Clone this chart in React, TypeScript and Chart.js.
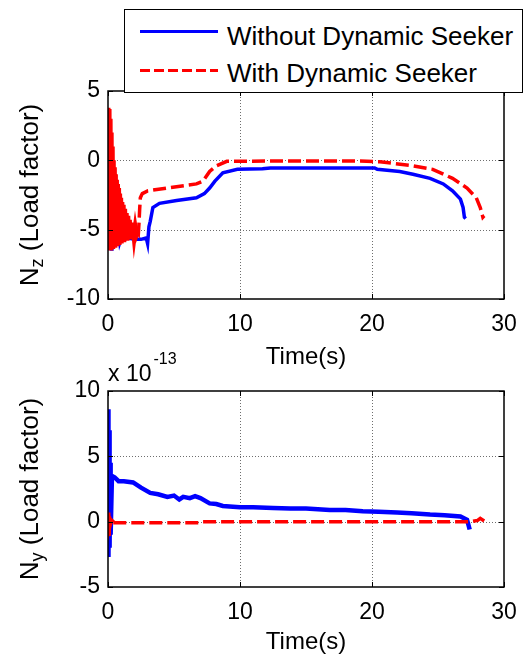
import React, { useEffect, useRef } from "react";
import { Chart, registerables } from "chart.js";

Chart.register(...registerables);

const FONT = '"Liberation Sans", Arial, Helvetica, sans-serif';

// ---------- data ----------
const seriesNames = ["Without Dynamic Seeker", "With Dynamic Seeker"];
const xLabel = "Time(s)";
const xRange = [0, 30];
const nzRange = [-10, 5];
const nyRange = [-5, 10];
const tickStepX = 10;
const tickStepY = 5;

// Top plot: N_z, without dynamic seeker
const nzWithoutT = [0, 0.05, 0.1, 0.15, 0.2, 0.25, 0.3, 0.35, 0.4, 0.45, 0.5, 0.55, 0.6, 0.7, 0.8, 0.9, 1.0, 1.2, 1.5, 2.0, 2.5, 2.9, 3.0, 3.1, 3.2, 3.4, 3.9, 5.2, 6.7, 7.3, 7.7, 8.1, 8.7, 9.8, 11.7, 12.3, 15, 18, 20.2, 20.4, 22.1, 23.1, 24.4, 25.4, 26.1, 26.7, 26.9, 27.0, 27.1];
const nzWithoutY = [-1.3, -6.2, -1.5, -6.3, -2.0, -6.4, -2.5, -6.2, -3.0, -6.0, -3.5, -6.0, -4.5, -5.8, -5.0, -5.9, -5.6, -5.7, -5.6, -5.7, -5.7, -5.6, -6.0, -4.8, -4.4, -3.4, -3.1, -2.9, -2.7, -2.4, -2.0, -1.5, -0.9, -0.65, -0.6, -0.55, -0.55, -0.55, -0.55, -0.65, -0.8, -1.0, -1.3, -1.7, -2.2, -2.8, -3.4, -4.1, -4.2];

// Top plot: N_z, with dynamic seeker
const nzWithT = [0, 0.04, 0.08, 0.12, 0.16, 0.2, 0.24, 0.28, 0.32, 0.36, 0.4, 0.44, 0.48, 0.52, 0.56, 0.6, 0.64, 0.68, 0.72, 0.76, 0.8, 0.84, 0.88, 0.92, 0.96, 1.0, 1.05, 1.1, 1.15, 1.2, 1.26, 1.32, 1.38, 1.44, 1.5, 1.56, 1.62, 1.68, 1.75, 1.82, 1.9, 1.98, 2.06, 2.14, 2.22, 2.3, 2.35, 2.4, 2.45, 2.6, 3.0, 4.5, 6.7, 7.2, 7.7, 8.2, 9.0, 12, 19.1, 20.6, 23.1, 24.6, 26.1, 27.2, 27.9, 28.2, 28.4, 28.5];
const nzWithY = [3.8, -6.3, 3.7, -6.5, 3.0, -6.5, 2.0, -6.4, 1.0, -6.4, 0.0, -6.3, -0.5, -6.3, -1.0, -6.2, -1.4, -6.2, -1.7, -6.1, -2.0, -6.1, -2.4, -6.0, -2.7, -6.0, -3.0, -5.9, -3.2, -5.9, -3.5, -5.8, -3.8, -5.8, -4.0, -5.7, -4.3, -5.7, -4.5, -5.6, -4.7, -5.5, -4.9, -5.4, -5.2, -5.3, -4.5, -3.5, -2.7, -2.4, -2.2, -2.0, -1.7, -1.5, -0.8, -0.4, -0.07, -0.05, -0.05, -0.1, -0.4, -0.65, -1.3, -2.0, -2.7, -3.4, -4.1, -4.0];

// Bottom plot: N_y (x 1e-13), without dynamic seeker
const nyWithoutT = [0, 0.02, 0.05, 0.08, 0.12, 0.16, 0.2, 0.3, 0.5, 0.8, 1.2, 1.9, 2.5, 3.2, 3.8, 4.5, 5.0, 5.4, 5.7, 6.2, 6.6, 7.0, 7.7, 8.2, 8.7, 10, 11, 12.5, 13.8, 15, 16.8, 18, 19.3, 20.5, 21.9, 23, 24.4, 25.5, 26.7, 27.2, 27.4];
const nyWithoutY = [0.5, 8.6, -2.7, 7.0, -2.0, 4.5, -1.0, 3.5, 3.4, 3.1, 3.1, 3.0, 2.6, 2.2, 2.1, 1.9, 2.0, 1.7, 1.9, 1.8, 1.95, 1.8, 1.4, 1.35, 1.2, 1.1, 1.1, 1.05, 1.0, 1.0, 0.9, 0.9, 0.8, 0.75, 0.7, 0.65, 0.55, 0.5, 0.4, 0.15, -0.6];

// Bottom plot: N_y (x 1e-13), with dynamic seeker
const nyWithT = [0, 0.03, 0.06, 0.1, 0.2, 0.4, 5, 7, 7.2, 10, 15, 20, 25, 27.5, 28.0, 28.2, 28.5];
const nyWithY = [0.7, -1.1, 0.4, -0.3, 0.1, -0.08, -0.08, -0.08, 0.0, 0.0, 0.0, 0.0, 0.0, 0.0, 0.1, 0.25, 0.05];

const BLUE = "#0000ff";
const RED = "#ff0000";

const toPoints = (t: number[], y: number[]) => t.map((v, i) => ({ x: v, y: y[i] }));

// ---------- plugin: MATLAB-like grid, box, inward ticks, y-title with subscript, exponent ----------
const matlabBox = {
  id: "matlabBox",
  beforeDatasetsDraw(chart: any) {
    const { ctx, chartArea: a, scales } = chart;
    ctx.save();
    ctx.strokeStyle = "#6e6e6e";
    ctx.lineWidth = 1;
    ctx.setLineDash([1, 2]);
    ctx.beginPath();
    scales.x.ticks.forEach((t: any) => {
      if (t.value <= scales.x.min || t.value >= scales.x.max) return;
      const px = Math.round(scales.x.getPixelForValue(t.value)) + 0.5;
      ctx.moveTo(px, a.top);
      ctx.lineTo(px, a.bottom);
    });
    scales.y.ticks.forEach((t: any) => {
      if (t.value <= scales.y.min || t.value >= scales.y.max) return;
      const py = Math.round(scales.y.getPixelForValue(t.value)) + 0.5;
      ctx.moveTo(a.left, py);
      ctx.lineTo(a.right, py);
    });
    ctx.stroke();
    ctx.restore();
  },
  afterDraw(chart: any, _args: any, opts: any) {
    const { ctx, chartArea: a, scales } = chart;
    ctx.save();
    // inward ticks
    ctx.strokeStyle = "#000";
    ctx.lineWidth = 1;
    ctx.setLineDash([]);
    const L = 5;
    ctx.beginPath();
    scales.x.ticks.forEach((t: any) => {
      const px = Math.round(scales.x.getPixelForValue(t.value)) + 0.5;
      ctx.moveTo(px, a.bottom);
      ctx.lineTo(px, a.bottom - L);
      ctx.moveTo(px, a.top);
      ctx.lineTo(px, a.top + L);
    });
    scales.y.ticks.forEach((t: any) => {
      const py = Math.round(scales.y.getPixelForValue(t.value)) + 0.5;
      ctx.moveTo(a.left, py);
      ctx.lineTo(a.left + L, py);
      ctx.moveTo(a.right, py);
      ctx.lineTo(a.right - L, py);
    });
    ctx.stroke();
    // box
    ctx.lineWidth = 1.5;
    ctx.strokeRect(a.left, a.top, a.right - a.left, a.bottom - a.top);

    // y title with subscript
    const big = `26px ${FONT}`;
    const small = `18px ${FONT}`;
    ctx.fillStyle = "#000";
    ctx.textBaseline = "alphabetic";
    ctx.textAlign = "left";
    ctx.font = big;
    const wN = ctx.measureText(opts.main).width;
    const wR = ctx.measureText(opts.rest).width;
    ctx.font = small;
    const wS = ctx.measureText(opts.sub).width;
    const total = wN + wS + wR;
    ctx.save();
    ctx.translate(opts.titleX, (a.top + a.bottom) / 2);
    ctx.rotate(-Math.PI / 2);
    let x = -total / 2;
    const base = 10;
    ctx.font = big;
    ctx.fillText(opts.main, x, base);
    x += wN;
    ctx.font = small;
    ctx.fillText(opts.sub, x, base + 5);
    x += wS;
    ctx.font = big;
    ctx.fillText(opts.rest, x, base);
    ctx.restore();

    // exponent label
    if (opts.exponent) {
      ctx.font = `23px ${FONT}`;
      const pre = "x 10";
      ctx.fillText(pre, a.left, a.top - 10);
      const w = ctx.measureText(pre).width;
      ctx.font = `16px ${FONT}`;
      ctx.fillText(opts.exponent, a.left + w + 2, a.top - 27);
    }
    ctx.restore();
  },
};

function makeConfig(
  withoutPts: { x: number; y: number }[],
  withPts: { x: number; y: number }[],
  yRange: number[],
  padTop: number,
  padBottom: number,
  xHeight: number,
  blueWidth: number,
  plugOpts: any
): any {
  return {
    type: "line",
    data: {
      datasets: [
        {
          label: seriesNames[0],
          data: withoutPts,
          borderColor: BLUE,
          backgroundColor: BLUE,
          borderWidth: blueWidth,
          pointRadius: 0,
          tension: 0,
          fill: false,
          order: 1,
        },
        {
          label: seriesNames[1],
          data: withPts,
          borderColor: RED,
          backgroundColor: RED,
          borderWidth: 3.5,
          borderDash: [13, 5],
          segment: {
            borderDash: (c: any) => (c.p1.parsed.x < 2.3 ? [] : undefined),
            borderWidth: (c: any) => (c.p1.parsed.x < 2.3 ? 5 : undefined),
          },
          pointRadius: 0,
          tension: 0,
          fill: false,
          order: 0,
        },
      ],
    },
    options: {
      animation: false,
      responsive: false,
      maintainAspectRatio: false,
      events: [],
      layout: { padding: { top: padTop, left: 0, right: 27, bottom: padBottom } },
      plugins: {
        legend: { display: false },
        tooltip: { enabled: false },
        title: { display: false },
        matlabBox: plugOpts,
      },
      scales: {
        x: {
          type: "linear",
          min: xRange[0],
          max: xRange[1],
          ticks: {
            stepSize: tickStepX,
            color: "#000",
            font: { family: FONT, size: 23 },
            padding: 12,
            maxRotation: 0,
            autoSkip: false,
          },
          grid: { display: false, drawTicks: false },
          border: { display: false },
          title: {
            display: true,
            text: xLabel,
            color: "#000",
            font: { family: FONT, size: 24 },
            padding: { top: 0, bottom: 2 },
          },
          afterFit: (s: any) => {
            s.height = xHeight;
          },
        },
        y: {
          type: "linear",
          min: yRange[0],
          max: yRange[1],
          ticks: {
            stepSize: tickStepY,
            color: "#000",
            font: { family: FONT, size: 23 },
            padding: 8,
            autoSkip: false,
          },
          grid: { display: false, drawTicks: false },
          border: { display: false },
          afterFit: (s: any) => {
            s.width = 108;
          },
        },
      },
    },
    plugins: [matlabBox],
  };
}

export default function App() {
  const topRef = useRef<HTMLCanvasElement | null>(null);
  const botRef = useRef<HTMLCanvasElement | null>(null);

  useEffect(() => {
    const top = new Chart(
      topRef.current as HTMLCanvasElement,
      makeConfig(
        toPoints(nzWithoutT, nzWithoutY),
        toPoints(nzWithT, nzWithY),
        nzRange,
        91,
        661 - 374,
        75,
        3.5,
        { main: "N", sub: "z", rest: " (Load factor)", titleX: 28 }
      )
    );
    const bot = new Chart(
      botRef.current as HTMLCanvasElement,
      makeConfig(
        toPoints(nyWithoutT, nyWithoutY),
        toPoints(nyWithT, nyWithY),
        nyRange,
        391,
        2,
        72,
        4.5,
        { main: "N", sub: "y", rest: " (Load factor)", titleX: 28, exponent: "-13" }
      )
    );
    return () => {
      top.destroy();
      bot.destroy();
    };
  }, []);

  const canvasStyle: React.CSSProperties = { position: "absolute", left: 0, top: 0 };

  return (
    <div style={{ position: "absolute", left: 0, top: 0, width: 531, height: 661, overflow: "hidden", background: "#fff" }}>
      <canvas ref={topRef} width={531} height={661} style={canvasStyle} />
      <canvas ref={botRef} width={531} height={661} style={canvasStyle} />
      <div
        style={{
          position: "absolute",
          left: 124,
          top: 9,
          width: 399,
          height: 84,
          boxSizing: "border-box",
          border: "1.5px solid #000",
          background: "#fff",
          fontFamily: FONT,
          fontSize: 26,
          color: "#000",
        }}
      >
        <div style={{ position: "absolute", left: 15, top: 20, width: 78, height: 3, background: BLUE }} />
        <div
          style={{
            position: "absolute",
            left: 15,
            top: 59,
            width: 78,
            height: 3,
            background: `repeating-linear-gradient(to right, ${RED} 0px, ${RED} 10px, transparent 10px, transparent 14px)`,
          }}
        />
        <div style={{ position: "absolute", left: 102, top: 11, lineHeight: "30px", whiteSpace: "nowrap" }}>{seriesNames[0]}</div>
        <div style={{ position: "absolute", left: 102, top: 48, lineHeight: "30px", whiteSpace: "nowrap" }}>{seriesNames[1]}</div>
      </div>
    </div>
  );
}
